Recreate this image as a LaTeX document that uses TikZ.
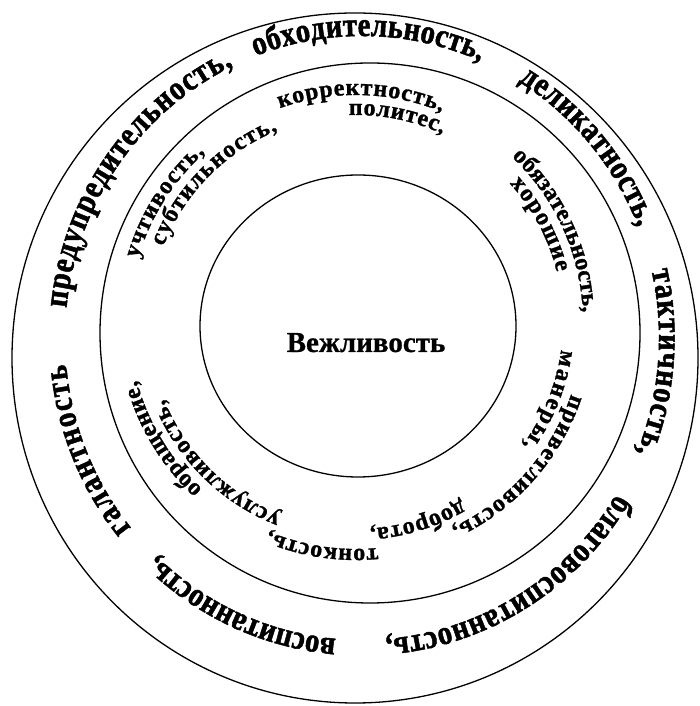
\documentclass[tikz,border=0pt]{standalone}
\usepackage{fontspec}
\setmainfont{Liberation Serif}
\newfontfamily\ringfont[FakeStretch=0.85, FakeBold=1.4]{Liberation Serif Bold}
\newfontfamily\bandfam[FakeBold=1.2]{Liberation Serif Bold}
\newfontfamily\corefam[FakeBold=0.8]{Liberation Serif Bold}
\usepackage{tikz}
\usetikzlibrary{decorations.text}

\newcommand{\bigwordfont}{\ringfont\fontsize{34}{34}\selectfont}
\newcommand{\bandfont}{\bandfam\fontsize{24}{24}\selectfont}
\newcommand{\corefont}{\corefam\fontsize{29}{29}\selectfont}

\begin{document}
\begin{tikzpicture}[x=1pt, y=1pt, line width=1.3pt,
    bigword/.style={decorate, decoration={text along path, text align={fit to path}, text={|\bigwordfont|#1}}, x radius=297, y radius=302},
    bandout/.style={decorate, decoration={text along path, text align={fit to path}, text={|\bandfont|#1}}, radius=227},
    bandin/.style={decorate, decoration={text along path, text align={fit to path}, text={|\bandfont|#1}}, radius=207}]
  \useasboundingbox (0,0) rectangle (699,706);

  % rings
  \coordinate (outerc) at (355,348);
  \coordinate (midc) at (370,373);
  \coordinate (innerc) at (358,380);
  \draw (outerc) ellipse[x radius=343, y radius=345];
  \draw (midc) circle[radius=270];
  \draw (innerc) ellipse[x radius=158, y radius=151];

  \node[font=\corefont, anchor=base] (core) at (366,354) {Вежливость};

  % outer ring words, clockwise
  \begin{scope}[shift={(362,368)}]
    \path[bigword={галантность}] (219:297 and 302) arc[start angle=219, end angle=185];
    \path[bigword={предупредительность,}] (174.3:297 and 302) arc[start angle=174.3, end angle=115.7];
    \path[bigword={обходительность,}] (111:297 and 302) arc[start angle=111, end angle=66.5];
    \path[bigword={деликатность,}] (58.2:297 and 302) arc[start angle=58.2, end angle=21.5];
    \path[bigword={тактичность,}] (12.9:297 and 302) arc[start angle=12.9, end angle=-22.3];
    \path[bigword={благовоспитанность,}] (-31.1:297 and 302) arc[start angle=-31.1, end angle=-85.5];
    \path[bigword={воспитанность,}] (-95:297 and 302) arc[start angle=-95, end angle=-133.5];
  \end{scope}

  % middle band, two lines
  \begin{scope}[shift={(356,384)}]
    \path[bandout={учтивость,}] (163.8:227) arc[start angle=163.8, end angle=131.7];
    \path[bandout={корректность,}] (109.6:227) arc[start angle=109.6, end angle=67.8];
    \path[bandout={обязательность,}] (46.7:227) arc[start angle=46.7, end angle=2.4];
    \path[bandout={приветливость,}] (-18.5:227) arc[start angle=-18.5, end angle=-65.1];
    \path[bandout={тонкость,}] (-84.5:227) arc[start angle=-84.5, end angle=-112.6];
    \path[bandout={обращение,}] (-132.6:227) arc[start angle=-132.6, end angle=-165.1];
    \path[bandin={субтильность,}] (158.6:207) arc[start angle=158.6, end angle=112.2];
    \path[bandin={политес,}] (92:207) arc[start angle=92, end angle=65.3];
    \path[bandin={хорошие}] (42:207) arc[start angle=42, end angle=13.9];
    \path[bandin={манеры,}] (-7.7:207) arc[start angle=-7.7, end angle=-36.5];
    \path[bandin={доброта,}] (-59.4:207) arc[start angle=-59.4, end angle=-86.2];
    \path[bandin={услужливость,}] (-111.2:207) arc[start angle=-111.2, end angle=-158.1];
  \end{scope}
\end{tikzpicture}
\end{document}
